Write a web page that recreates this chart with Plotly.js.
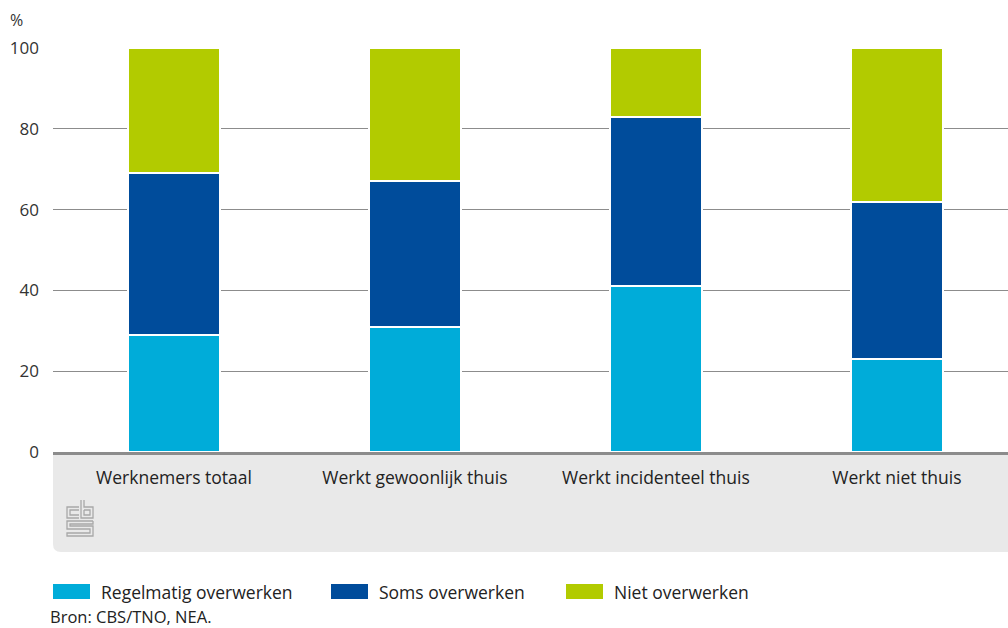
<!DOCTYPE html>
<html>
<head>
<meta charset="utf-8">
<script src="https://cdn.plot.ly/plotly-3.0.1.min.js"></script>
<style>html,body{margin:0;padding:0;background:#fff;}#chart{width:1008px;height:628px;}</style>
</head>
<body>
<div id="chart"></div>
<script>
const categories = ["Werknemers totaal", "Werkt gewoonlijk thuis", "Werkt incidenteel thuis", "Werkt niet thuis"];
const seriesNames = ["Regelmatig overwerken", "Soms overwerken", "Niet overwerken"];
const regelmatig = [29, 31, 41, 23];
const soms = [40, 36, 42, 39];
const niet = [31, 33, 17, 38];
const yTicks = [0, 20, 40, 60, 80, 100];
const source = "Bron: CBS/TNO, NEA.";
const colors = ["#00acd9", "#004c9b", "#b2cb00"];

const L = 53, R = 1008, T = 48, B = 452;
const W = R - L, H = B - T;
const px = p => (p - L) / W;
const py = p => (B - p) / H;

const font = "'Open Sans', sans-serif";
const series = [regelmatig, soms, niet];
const traces = series.map((vals, i) => ({
  type: "bar",
  x: categories,
  y: vals,
  name: seriesNames[i],
  marker: {color: colors[i], line: {color: "#ffffff", width: 2}},
  hoverinfo: "y+name",
  showlegend: false
}));

const shapes = [];
const annotations = [];
// gray band under axis
const bandBottom = py(552);
shapes.push({
  type: "path", xref: "paper", yref: "paper", layer: "below",
  path: `M 0,0 L 1,0 L 1,${bandBottom} L ${px(61)},${bandBottom} Q 0,${bandBottom} 0,${py(544)} Z`,
  fillcolor: "#e9e9e9", line: {width: 0}
});
// cbs logo (outline style)
const logoColor = "#a8a8a8";
function seg(points) {
  return "M " + points.map(p => `${px(p[0])},${py(p[1])}`).join(" L ");
}
const logoPaths = [
  [[79,507],[67,507],[67,518],[79,518]],
  [[79,510],[70,510],[70,515],[79,515]],
  [[81,500],[81,518],[93,518],[93,507],[84,507],[84,500]],
  [[84,510],[90,510],[90,515],[84,515],[84,510]],
  [[93,521],[67,521],[67,529],[90,529],[90,533],[67,533],[67,536],[93,536],[93,526],[70,526],[70,524],[93,524],[93,521]]
];
logoPaths.forEach(p => shapes.push({
  type: "path", xref: "paper", yref: "paper", path: seg(p),
  line: {color: logoColor, width: 1.3}
}));
// "%" label
annotations.push({text: "%", xref: "paper", yref: "paper", x: px(9), y: py(20), xanchor: "left", yanchor: "middle",
  showarrow: false, borderpad: 0, font: {family: font, size: 16, color: "#333"}});
// legend
const legendX = [53, 331, 566];
seriesNames.forEach((n, i) => {
  shapes.push({type: "rect", xref: "paper", yref: "paper",
    x0: px(legendX[i]), x1: px(legendX[i] + 37), y0: py(584), y1: py(599),
    fillcolor: colors[i], line: {width: 0}});
  annotations.push({text: n, xref: "paper", yref: "paper", x: px(legendX[i] + 47), y: py(592),
    xanchor: "left", yanchor: "middle", showarrow: false, borderpad: 0, font: {family: font, size: 17.5, color: "#222"}});
});
annotations.push({text: source, xref: "paper", yref: "paper", x: px(49), y: py(616),
  xanchor: "left", yanchor: "middle", showarrow: false, borderpad: 0, font: {family: font, size: 16.5, color: "#222"}});

const layout = {
  width: 1008, height: 628,
  margin: {l: L, r: 1008 - R, t: T, b: 628 - B, pad: 0},
  paper_bgcolor: "#ffffff", plot_bgcolor: "#ffffff",
  barmode: "stack", bargap: 0.62,
  font: {family: font, size: 15, color: "#333"},
  xaxis: {
    range: [-0.502, 3.461], showgrid: false, zeroline: false,
    showline: true, linecolor: "#8c8c8c", linewidth: 3,
    ticks: "", tickfont: {family: font, size: 17.5, color: "#222"}, ticklabelstandoff: 8,
    fixedrange: true
  },
  yaxis: {
    range: [0, 100], tickvals: yTicks, ticktext: yTicks.map(String),
    showgrid: true, gridcolor: "#8c8c8c", gridwidth: 1.3, zeroline: false,
    showline: false, ticks: "", ticklabelstandoff: 13,
    tickfont: {family: font, size: 17, color: "#333"}, fixedrange: true
  },
  shapes: shapes,
  annotations: annotations
};
Plotly.newPlot("chart", traces, layout, {displayModeBar: false, staticPlot: true});
</script>
</body>
</html>
